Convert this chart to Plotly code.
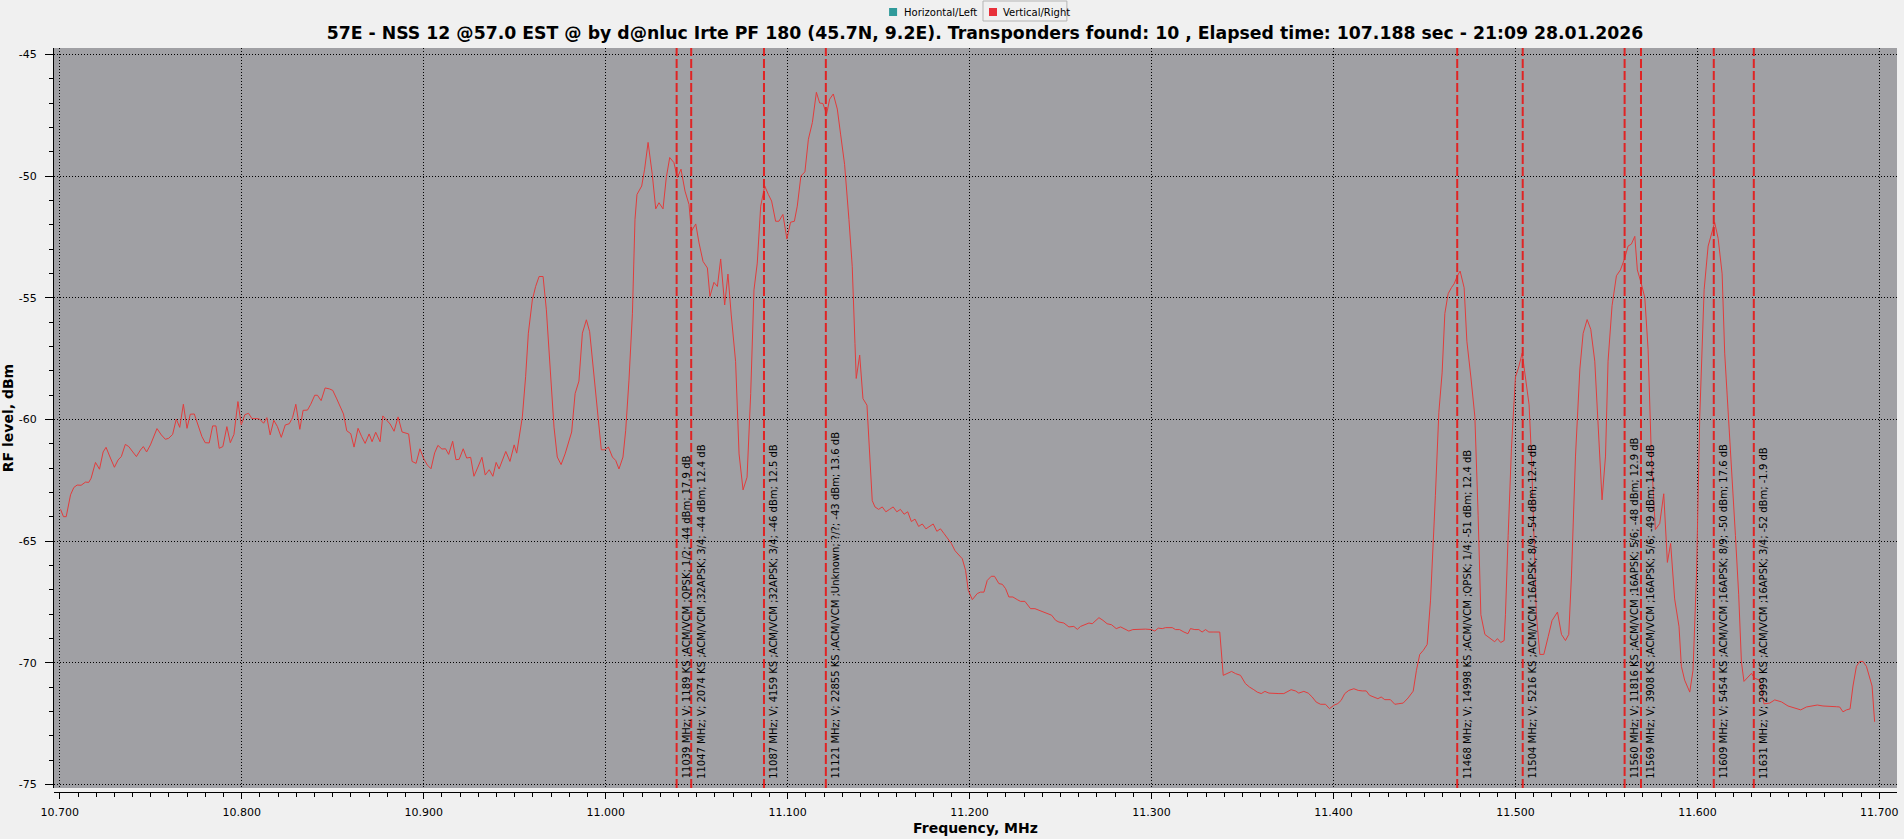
import plotly.graph_objects as go

title_text = ("57E - NSS 12 @57.0 EST @ by d@nluc Irte PF 180 (45.7N, 9.2E). "
              "Transponders found: 10 , Elapsed time: 107.188 sec - 21:09 28.01.2026")
x_title = "Frequency, MHz"
y_title = "RF level, dBm"

# spectrum (Vertical/Right), frequency in MHz, level in dBm
freq_mhz = [
    10700.4, 10702.0, 10703.5, 10705.9, 10707.7, 10709.5, 10711.7, 10713.2, 10714.1, 10715.9,
    10717.2, 10719.6, 10721.8, 10723.8, 10725.4, 10727.8, 10730.0, 10732.0, 10733.8, 10736.0,
    10737.9, 10740.1, 10742.1, 10744.3, 10745.9, 10747.7, 10749.8, 10753.4, 10755.8, 10758.0,
    10759.8, 10762.0, 10764.0, 10765.9, 10767.9, 10769.9, 10771.7, 10773.9, 10776.1, 10778.1,
    10779.9, 10782.1, 10784.0, 10785.8, 10787.6, 10789.6, 10791.8, 10793.7, 10795.7, 10797.9,
    10799.7, 10801.7, 10803.7, 10805.6, 10808.3, 10809.8, 10812.0, 10813.8, 10815.6, 10817.6,
    10819.6, 10821.7, 10823.9, 10826.1, 10827.9, 10829.7, 10831.9, 10833.7, 10836.1, 10837.9,
    10840.1, 10841.6, 10843.6, 10845.8, 10848.2, 10850.0, 10852.2, 10855.9, 10857.7, 10859.9,
    10861.7, 10863.9, 10865.9, 10867.8, 10870.0, 10871.6, 10873.6, 10876.0, 10877.5, 10879.7,
    10881.5, 10883.7, 10885.9, 10888.1, 10889.9, 10891.7, 10893.6, 10895.8, 10897.9, 10900.0,
    10902.0, 10904.0, 10906.0, 10907.8, 10910.0, 10912.0, 10913.7, 10915.9, 10917.7, 10919.5,
    10921.7, 10923.6, 10925.8, 10927.6, 10929.8, 10932.0, 10933.8, 10936.0, 10938.0, 10939.8,
    10941.4, 10945.1, 10947.4, 10949.7, 10951.1, 10952.7, 10954.2, 10956.0, 10957.5, 10959.7,
    10961.5, 10963.4, 10965.6, 10967.4, 10969.8, 10971.6, 10973.4, 10975.5, 10977.7, 10981.3,
    10983.2, 10985.3, 10987.2, 10989.4, 10991.2, 10993.0, 10995.4, 10997.6, 10999.6, 11001.5,
    11003.7, 11005.5, 11007.3, 11009.5, 11011.0, 11012.8, 11014.7, 11016.1, 11017.2, 11019.8,
    11021.4, 11023.3, 11025.6, 11027.5, 11029.3, 11031.5, 11033.3, 11035.2, 11037.5, 11039.4,
    11041.4, 11043.6, 11045.8, 11047.1, 11049.5, 11051.3, 11053.5, 11055.9, 11057.3, 11059.5,
    11061.4, 11063.2, 11065.4, 11067.2, 11069.0, 11071.4, 11073.3, 11075.5, 11077.7, 11079.7,
    11081.5, 11083.3, 11085.2, 11087.4, 11089.4, 11091.2, 11093.4, 11095.2, 11097.4, 11099.6,
    11101.6, 11103.7, 11105.3, 11107.3, 11109.5, 11111.4, 11113.6, 11115.8, 11117.6, 11119.4,
    11121.4, 11123.1, 11125.1, 11127.3, 11129.1, 11131.3, 11133.7, 11135.5, 11137.0, 11137.7,
    11139.6, 11141.4, 11143.6, 11144.7, 11146.5, 11148.0, 11150.0, 11152.0, 11154.0, 11156.0,
    11158.0, 11160.0, 11162.0, 11164.0, 11166.0, 11168.0, 11170.0, 11172.0, 11174.0, 11176.0,
    11178.0, 11180.0, 11182.0, 11184.0, 11186.0, 11188.0, 11190.0, 11192.0,
    11194.1, 11196.0, 11197.8, 11199.3, 11201.5, 11204.2, 11206.0, 11207.9, 11209.7, 11211.9,
    11213.7, 11216.1, 11218.0, 11219.8, 11221.6, 11223.8, 11226.2, 11228.0, 11230.4, 11233.5,
    11235.9, 11238.1, 11240.3, 11242.7, 11245.1, 11247.3, 11249.1, 11251.8, 11254.6, 11257.3,
    11259.2, 11261.0, 11263.4, 11265.6, 11267.4, 11269.2, 11271.1, 11273.3, 11275.6, 11278.0,
    11280.6, 11283.0, 11285.3, 11287.5, 11289.7, 11293.0, 11296.7, 11300.0, 11301.8, 11303.7,
    11305.9, 11307.7, 11311.4, 11313.2, 11315.4, 11317.8, 11320.0, 11321.4, 11323.8, 11326.0,
    11327.8, 11329.7, 11331.5, 11334.2, 11337.5, 11339.4, 11341.6, 11344.0, 11346.2, 11348.9,
    11351.6, 11353.8, 11356.2, 11358.1, 11360.3, 11362.3, 11364.5, 11367.2, 11370.0, 11372.7,
    11374.5, 11376.7, 11379.1, 11380.9, 11383.7, 11386.1, 11388.3, 11390.5, 11392.9, 11395.6,
    11397.8, 11400.2, 11402.4, 11404.2, 11406.2, 11408.4, 11411.2, 11413.6, 11415.8, 11418.0,
    11419.8, 11422.2, 11424.4, 11426.2, 11428.2, 11431.3, 11433.7,
    11435.5, 11438.3, 11441.0, 11443.8, 11445.6, 11447.4, 11449.3, 11451.5, 11453.3, 11454.8,
    11456.0, 11457.9, 11459.7, 11461.2, 11463.0, 11464.8, 11466.3, 11468.1, 11469.6, 11471.8,
    11473.3, 11475.5, 11477.7, 11479.5, 11481.0, 11483.2, 11485.0, 11487.2, 11488.6, 11490.1,
    11491.9, 11493.8, 11494.5, 11496.0, 11497.8, 11500.0, 11501.8, 11503.7, 11505.5, 11507.5,
    11508.8, 11510.3, 11511.5, 11513.4, 11515.6, 11518.0, 11520.1, 11523.1, 11525.3, 11527.5,
    11529.3, 11530.8, 11533.0, 11535.4, 11537.2, 11539.4, 11541.4, 11543.6, 11545.4, 11547.6,
    11549.5, 11550.9, 11553.1, 11555.5, 11557.7, 11560.1, 11561.9, 11563.7, 11565.6, 11567.0,
    11568.9, 11571.1, 11572.9, 11574.7, 11576.9, 11579.3, 11581.5, 11583.5, 11585.3, 11587.5,
    11589.9, 11591.2, 11593.0, 11595.8, 11597.6, 11599.5, 11601.3, 11603.7, 11605.9, 11607.7,
    11609.5, 11611.4, 11613.6, 11615.0, 11617.2, 11619.0, 11620.9, 11622.7, 11624.2, 11625.6,
    11627.8, 11629.7, 11631.5, 11634.2, 11636.6, 11639.8, 11642.5, 11646.2, 11649.8, 11653.5,
    11656.8, 11659.9, 11662.6, 11665.9, 11669.0, 11672.7, 11676.4, 11678.2, 11680.0, 11681.9,
    11683.9, 11685.5, 11687.4, 11689.2, 11691.0, 11692.9, 11694.7, 11696.0, 11697.4,
]
level_dbm = [
    -63.70, -64.00, -64.00, -63.10, -62.80, -62.70, -62.71, -62.63, -62.58, -62.59,
    -62.42, -61.77, -62.05, -61.34, -61.15, -61.59, -61.97, -61.67, -61.53, -61.03,
    -61.12, -61.34, -61.53, -61.26, -61.12, -61.34, -61.05, -60.38, -60.64, -60.82,
    -60.78, -60.62, -59.99, -60.33, -59.38, -60.37, -59.79, -59.78, -60.23, -60.71,
    -60.96, -60.97, -60.27, -60.27, -61.19, -61.12, -60.30, -60.96, -60.62, -59.27,
    -60.22, -59.81, -59.75, -59.97, -59.97, -59.99, -60.16, -59.93, -60.64, -60.04,
    -60.30, -60.74, -60.23, -60.18, -59.93, -59.38, -60.41, -59.63, -59.62, -59.38,
    -59.01, -59.01, -59.23, -58.71, -58.75, -58.81, -59.16, -59.78, -60.47, -60.59,
    -61.14, -60.37, -60.71, -60.99, -60.60, -60.92, -60.53, -60.92, -59.86, -60.03,
    -60.19, -60.49, -59.90, -60.52, -60.56, -60.60, -61.73, -61.81, -61.21, -61.62,
    -61.88, -62.03, -61.38, -61.07, -61.22, -61.21, -61.44, -60.90, -61.66, -61.64,
    -61.21, -61.59, -61.56, -62.34, -61.96, -61.56, -62.29, -62.07, -62.34, -61.77,
    -62.04, -61.32, -61.73, -61.05, -61.39, -60.66, -59.90, -58.25, -56.46, -55.09,
    -54.54, -54.13, -54.13, -55.50, -58.25, -60.32, -61.55, -61.86, -61.42, -60.52,
    -58.94, -58.43, -56.46, -55.91, -56.40, -57.84, -59.77, -61.25, -61.25, -61.14,
    -61.55, -61.69, -62.04, -61.55, -60.45, -58.39, -55.64, -51.79, -50.76, -50.41,
    -49.72, -48.62, -49.93, -51.35, -51.10, -51.35, -50.07, -49.24, -49.45, -50.07,
    -49.72, -50.62, -51.17, -52.27, -51.97, -52.75, -53.51, -53.78, -54.95, -54.37,
    -54.54, -53.41, -55.30, -54.03, -55.71, -57.63, -61.42, -62.90, -62.38, -58.94,
    -54.68, -53.58, -51.24, -50.41, -50.76, -51.03, -51.86, -51.86, -51.58, -52.59,
    -51.90, -51.86, -51.24, -50.00, -49.83, -48.49, -47.80, -46.56, -47.00, -47.02,
    -47.46, -46.84, -46.63, -47.25, -48.28, -49.52, -51.79, -53.71, -56.88, -58.32,
    -57.36, -59.15, -59.42, -60.94, -63.34, -63.60, -63.70, -63.60, -63.80, -63.70,
    -63.60, -63.80, -63.70, -63.90, -63.80, -64.20, -64.10, -64.40, -64.30, -64.50,
    -64.40, -64.30, -64.60, -64.50, -64.70, -64.90, -65.10, -65.40,
    -65.59, -65.73, -66.21, -67.03, -67.41, -67.16, -67.10, -67.10, -66.62, -66.45,
    -66.45, -66.75, -66.78, -66.96, -67.30, -67.30, -67.41, -67.48, -67.48, -67.78,
    -67.78, -67.85, -67.92, -67.99, -68.05, -68.26, -68.33, -68.37, -68.53, -68.51,
    -68.63, -68.51, -68.44, -68.37, -68.40, -68.26, -68.15, -68.26, -68.40, -68.44,
    -68.60, -68.53, -68.60, -68.70, -68.64, -68.62, -68.62, -68.64, -68.70, -68.58,
    -68.60, -68.56, -68.56, -68.64, -68.64, -68.74, -68.81, -68.60, -68.64, -68.64,
    -68.74, -68.64, -68.74, -68.74, -68.74, -70.52, -70.45, -70.36, -70.45, -70.52,
    -70.86, -71.00, -71.11, -71.21, -71.27, -71.18, -71.25, -71.27, -71.27, -71.27,
    -71.21, -71.11, -71.16, -71.25, -71.18, -71.25, -71.41, -71.62, -71.71, -71.71,
    -71.89, -71.75, -71.68, -71.55, -71.27, -71.14, -71.07, -71.14, -71.16, -71.16,
    -71.34, -71.41, -71.48, -71.41, -71.52, -71.52, -71.71,
    -71.69, -71.66, -71.45, -71.17, -70.31, -69.66, -69.50, -69.25, -67.46, -65.26,
    -63.14, -59.72, -58.09, -55.65, -54.84, -54.59, -54.43, -54.10, -53.91, -54.59,
    -56.79, -58.26, -59.89, -63.96, -68.03, -68.84, -68.93, -69.04, -69.14, -69.01,
    -69.17, -69.09, -68.03, -64.77, -61.19, -58.26, -57.85, -57.28, -58.26, -59.40,
    -61.51, -64.77, -68.03, -69.66, -69.66, -68.93, -68.27, -67.92, -68.84, -69.09,
    -68.84, -66.40, -61.51, -57.93, -56.47, -55.90, -56.30, -57.61, -60.37, -63.31,
    -61.51, -57.61, -55.33, -54.10, -53.86, -53.37, -52.88, -52.80, -52.48, -53.86,
    -54.35, -55.00, -57.12, -61.51, -64.53, -64.28, -63.06, -65.88, -65.10, -67.38,
    -68.52, -70.15, -70.72, -71.21, -70.31, -66.40, -59.89, -54.67, -52.88, -52.39,
    -51.91, -52.56, -54.02, -57.28, -59.89, -62.33, -64.77, -67.21, -69.98, -70.77,
    -70.59, -70.44, -70.64, -70.72, -71.69, -71.66, -71.53, -71.61, -71.78, -71.86,
    -71.94, -71.82, -71.78, -71.74, -71.78, -71.78, -71.81, -71.82, -72.02, -71.94,
    -71.90, -70.96, -70.15, -69.95, -69.95, -70.15, -70.64, -70.96, -72.43,
]

# transponders found
tp_freq = [11039, 11047, 11087, 11121, 11468, 11504, 11560, 11569, 11609, 11631]
tp_label = [
    "11039 MHz; V; 1189 KS ;ACM/VCM ;QPSK; 1/2; -44 dBm; 17.9 dB",
    "11047 MHz; V; 2074 KS ;ACM/VCM ;32APSK; 3/4; -44 dBm; 12.4 dB",
    "11087 MHz; V; 4159 KS ;ACM/VCM ;32APSK; 3/4; -46 dBm; 12.5 dB",
    "11121 MHz; V; 22855 KS ;ACM/VCM ;Unknown; ?/?; -43 dBm; 13.6 dB",
    "11468 MHz; V; 14998 KS ;ACM/VCM ;QPSK; 1/4; -51 dBm; 12.4 dB",
    "11504 MHz; V; 5216 KS ;ACM/VCM ;16APSK; 8/9; -54 dBm; 12.4 dB",
    "11560 MHz; V; 11816 KS ;ACM/VCM ;16APSK; 5/6; -48 dBm; 12.9 dB",
    "11569 MHz; V; 3908 KS ;ACM/VCM ;16APSK; 5/6; -49 dBm; 14.8 dB",
    "11609 MHz; V; 5454 KS ;ACM/VCM ;16APSK; 8/9; -50 dBm; 17.6 dB",
    "11631 MHz; V; 2999 KS ;ACM/VCM ;16APSK; 3/4; -52 dBm; -1.9 dB",
]

x_tick_vals = [10700, 10800, 10900, 11000, 11100, 11200, 11300, 11400, 11500, 11600, 11700]
x_tick_text = ["10.700", "10.800", "10.900", "11.000", "11.100", "11.200",
               "11.300", "11.400", "11.500", "11.600", "11.700"]
y_tick_vals = [-45, -50, -55, -60, -65, -70, -75]
y_tick_text = ["-45", "-50", "-55", "-60", "-65", "-70", "-75"]

legend_names = ["Horizontal/Left", "Vertical/Right"]
legend_colors = ["#2f9a9a", "#e8303a"]

# ---------------- layout geometry ----------------
W, H = 1904, 839
ML, MR, MT, MB = 54, 5, 48, 47
PW, PH = W - ML - MR, H - MT - MB


def px_x(px):
    return (px - ML) / PW


def px_y(py):
    return (H - MB - py) / PH


BG = "#f0f0f0"
PLOT_BG = "#a0a0a4"
LINE_RED = "#e23c3c"
MARK_RED = "#e02424"
FONT = "DejaVu Sans"

fig = go.Figure()
fig.add_trace(go.Scatter(
    x=freq_mhz, y=level_dbm, mode="lines", name=legend_names[1],
    line=dict(color=LINE_RED, width=1), showlegend=False,
    hovertemplate="%{x} MHz<br>%{y} dBm<extra></extra>",
))

shapes = []
annotations = []
for f, lab in zip(tp_freq, tp_label):
    shapes.append(dict(type="line", xref="x", yref="y domain", x0=f, x1=f, y0=0, y1=1,
                       line=dict(color=MARK_RED, width=2, dash="9px,3px"), layer="above"))
    annotations.append(dict(x=f, y=-74.85, xref="x", yref="y", text=lab, showarrow=False,
                            textangle=-90, xanchor="left", yanchor="bottom", xshift=2,
                            font=dict(family=FONT, size=10, color="#000000")))

# legend drawn at the top, as in the original application
leg_y = px_y(12)
sq = 4
for name, col, sx, tx in zip(legend_names, legend_colors, [894, 994], [903, 1002]):
    shapes.append(dict(type="rect", xref="paper", yref="paper",
                       x0=px_x(sx - sq), x1=px_x(sx + sq), y0=px_y(12 + sq), y1=px_y(12 - sq),
                       fillcolor=col, line=dict(width=0)))
    annotations.append(dict(x=px_x(tx), y=leg_y, xref="paper", yref="paper", text=name,
                            showarrow=False, xanchor="left", yanchor="middle",
                            font=dict(family=FONT, size=10, color="#000000")))
shapes.append(dict(type="rect", xref="paper", yref="paper",
                   x0=px_x(984), x1=px_x(1068), y0=px_y(21), y1=px_y(1),
                   line=dict(color="#b4b4b4", width=1), fillcolor="rgba(0,0,0,0)"))

fig.update_layout(
    width=W, height=H,
    margin=dict(l=ML, r=MR, t=MT, b=MB, pad=0),
    paper_bgcolor=BG, plot_bgcolor=PLOT_BG,
    showlegend=False,
    title=dict(text=title_text, x=985 / W, xref="container", xanchor="center",
               y=1 - 33 / H, yref="container", yanchor="middle",
               font=dict(family=FONT, size=17.3, color="#000000", weight="bold")),
    font=dict(family=FONT, size=11, color="#000000"),
    shapes=shapes, annotations=annotations,
    xaxis=dict(range=[10696.8, 11709.7], anchor="free", position=0,
               tickmode="array", tickvals=x_tick_vals, ticktext=x_tick_text,
               ticks="outside", ticklen=6, tickwidth=1, tickcolor="#000000",
               ticklabelstandoff=4,
               minor=dict(tickmode="linear", tick0=10700, dtick=10, ticks="outside",
                          ticklen=4, tickcolor="#000000", showgrid=False),
               showline=True, linecolor="#000000", linewidth=1,
               showgrid=True, gridcolor="#000000", gridwidth=1, griddash="1px,2px",
               zeroline=False, tickfont=dict(family=FONT, size=11),
               title=dict(text=x_title, standoff=4,
                          font=dict(family=FONT, size=14, weight="bold"))),
    yaxis=dict(range=[-75.15, -44.74], domain=[4 / PH, 1],
               tickmode="array", tickvals=y_tick_vals, ticktext=y_tick_text,
               ticks="outside", ticklen=8, tickwidth=1, tickcolor="#000000",
               ticklabelstandoff=6,
               minor=dict(tickmode="linear", tick0=-75, dtick=1, ticks="outside",
                          ticklen=4, tickcolor="#000000", showgrid=False),
               showline=True, linecolor="#000000", linewidth=1,
               showgrid=True, gridcolor="#000000", gridwidth=1, griddash="1px,2px",
               zeroline=False, tickfont=dict(family=FONT, size=11),
               title=dict(text=y_title, standoff=3,
                          font=dict(family=FONT, size=14, weight="bold"))),
)

fig.write_html("out.html", include_plotlyjs=True, full_html=True,
               config={"displayModeBar": False},
               post_script="document.body.style.margin='0';document.body.style.overflow='hidden';")
